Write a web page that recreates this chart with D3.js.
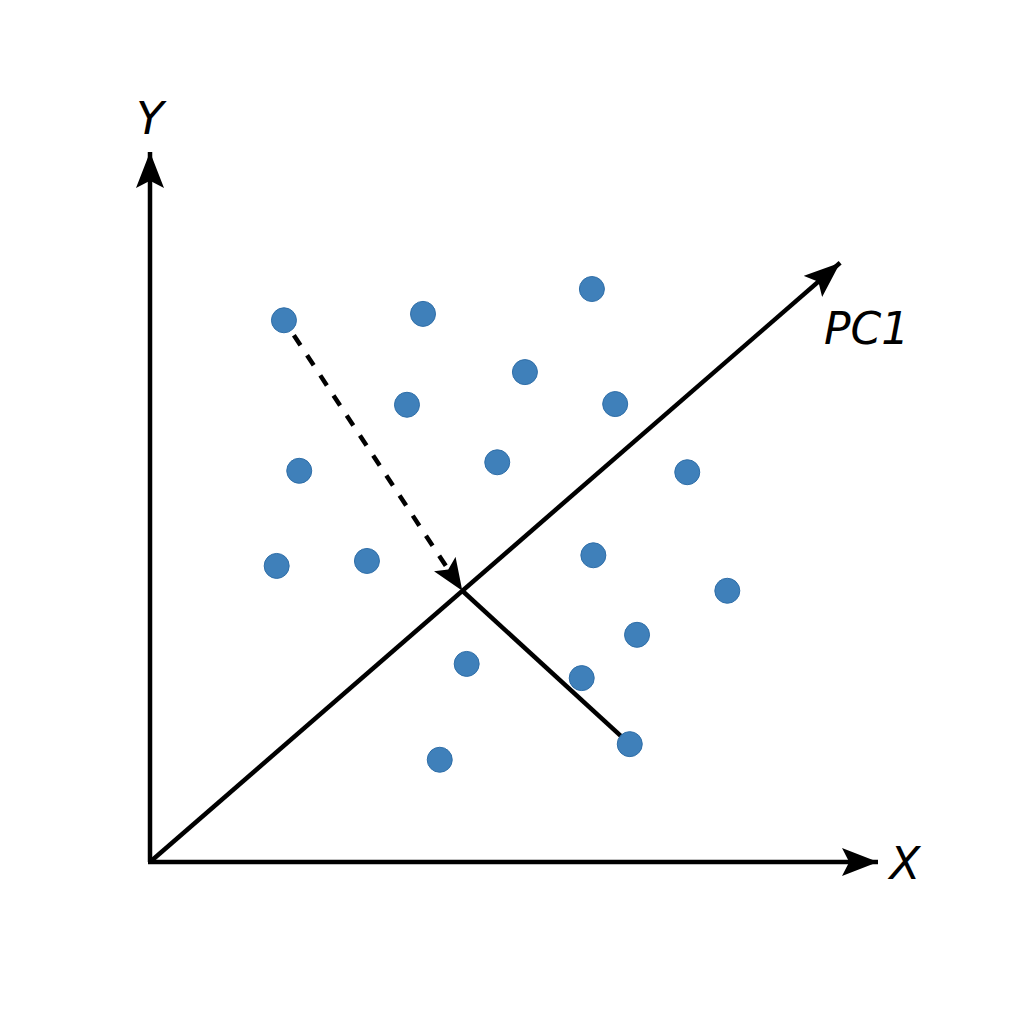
<!DOCTYPE html>
<html><head><meta charset="utf-8">
<script src="https://cdn.jsdelivr.net/npm/d3@7"></script>
<style>body{margin:0;background:#fff}svg{display:block}</style>
</head><body>
<script>
// data (in data units 0..100)
const pointsX = [18.4, 37.5, 60.7, 51.5, 35.3, 63.9, 20.5, 47.7, 73.8, 17.4, 29.8, 60.9, 79.3, 66.9, 43.5, 59.3, 65.9, 39.8];
const pointsY = [76.3, 77.2, 80.7, 69.0, 64.4, 64.5, 55.1, 56.3, 54.9, 41.7, 42.4, 43.2, 38.2, 32.0, 27.9, 25.9, 16.6, 14.4];
const pc1End = [94.8, 84.4];
const foot = [42.9, 38.2];
const dashedFrom = 0;   // index of projected point (dashed arrow)
const solidTo = 16;     // index of point linked by solid line
const labels = ["X", "Y", "PC1"];

const W = 1024, H = 1024;
const svg = d3.select("body").append("svg").attr("width", W).attr("height", H);
const x = d3.scaleLinear().domain([0, 100]).range([150, 878]);
const y = d3.scaleLinear().domain([0, 100]).range([862, 152]);

const defs = svg.append("defs");
function marker(id, len, wid) {
  defs.append("marker").attr("id", id).attr("viewBox", `0 0 ${len} ${wid}`)
    .attr("refX", len).attr("refY", wid / 2).attr("markerWidth", len).attr("markerHeight", wid)
    .attr("markerUnits", "userSpaceOnUse").attr("orient", "auto")
    .append("path").attr("d", `M0,0 L${len},${wid/2} L0,${wid} L${len*0.2},${wid/2} Z`).attr("fill", "#000");
}
marker("ah", 36, 28);
marker("ah2", 32, 26);

const g = svg.append("g");
// axes
g.append("line").attr("x1", x(0)).attr("y1", y(0)).attr("x2", x(0)).attr("y2", y(100))
  .attr("stroke", "#000").attr("stroke-width", 4.5).attr("marker-end", "url(#ah)");
g.append("line").attr("x1", x(0) - 2).attr("y1", y(0)).attr("x2", x(100)).attr("y2", y(0))
  .attr("stroke", "#000").attr("stroke-width", 4.5).attr("marker-end", "url(#ah)");
// PC1
g.append("line").attr("x1", x(0)).attr("y1", y(0)).attr("x2", x(pc1End[0])).attr("y2", y(pc1End[1]))
  .attr("stroke", "#000").attr("stroke-width", 4.5).attr("marker-end", "url(#ah)");

// solid line from foot to point
g.append("line").attr("x1", x(foot[0])).attr("y1", y(foot[1]))
  .attr("x2", x(pointsX[solidTo])).attr("y2", y(pointsY[solidTo]))
  .attr("stroke", "#000").attr("stroke-width", 4.5);

// dashed arrow from point to foot
{
  const px = x(pointsX[dashedFrom]), py = y(pointsY[dashedFrom]);
  const fx = x(foot[0]), fy = y(foot[1]);
  const dx = fx - px, dy = fy - py, L = Math.hypot(dx, dy);
  const sx = px + dx / L * 18, sy = py + dy / L * 18;
  g.append("line").attr("x1", sx).attr("y1", sy).attr("x2", fx - dx / L * 10).attr("y2", fy - dy / L * 10)
    .attr("stroke", "#000").attr("stroke-width", 4.5).attr("stroke-dasharray", "12,12");
  g.append("line").attr("x1", fx - dx / L * 30).attr("y1", fy - dy / L * 30).attr("x2", fx).attr("y2", fy)
    .attr("stroke", "none").attr("marker-end", "url(#ah2)");
}

// points
g.selectAll("circle.pt").data(pointsX.map((v, i) => [v, pointsY[i]])).join("circle")
  .attr("class", "pt").attr("cx", d => x(d[0])).attr("cy", d => y(d[1])).attr("r", 12.5)
  .attr("fill", "#3f80ba").attr("stroke", "#2f6ea8").attr("stroke-width", 1);

// labels
const font = "'DejaVu Sans', sans-serif";
svg.append("text").attr("x", 905).attr("y", 879).attr("text-anchor", "middle")
  .attr("font-family", font).attr("font-style", "italic").attr("font-size", 45).text(labels[0]);
svg.append("text").attr("x", 150).attr("y", 134).attr("text-anchor", "middle")
  .attr("font-family", font).attr("font-style", "italic").attr("font-size", 45).text(labels[1]);
svg.append("text").attr("x", 824).attr("y", 344).attr("text-anchor", "start")
  .attr("font-family", font).attr("font-style", "italic").attr("font-size", 44).text(labels[2]);
</script>
</body></html>
